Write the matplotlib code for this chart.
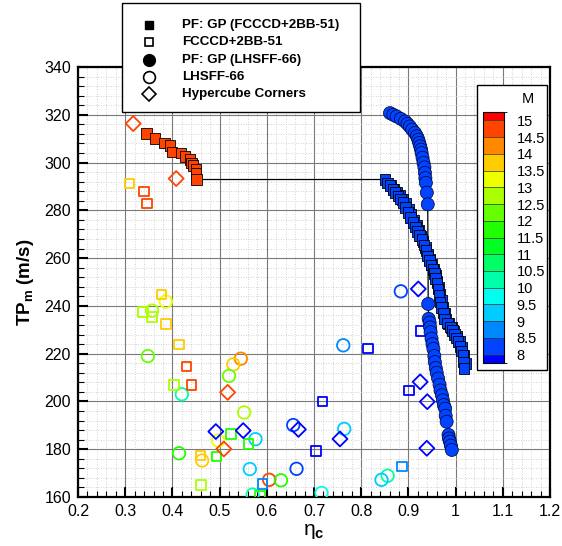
import matplotlib
matplotlib.use('Agg')
import matplotlib.pyplot as plt
import numpy as np
from matplotlib.colors import ListedColormap, BoundaryNorm, LinearSegmentedColormap
from matplotlib.lines import Line2D
from matplotlib.patches import Rectangle
from matplotlib.ticker import MultipleLocator
import matplotlib.cm as cm

plt.rcParams['font.family'] = ['Liberation Sans', 'DejaVu Sans']
plt.rcParams['mathtext.fontset'] = 'custom'
plt.rcParams['mathtext.rm'] = 'Liberation Sans'
plt.rcParams['mathtext.bf'] = 'Liberation Sans:bold'
plt.rcParams['mathtext.it'] = 'Liberation Sans:italic'

# ---------------- data ----------------
levels = [8, 8.5, 9, 9.5, 10, 10.5, 11, 11.5, 12, 12.5, 13, 13.5, 14, 14.5, 15]

# Pareto front: GP (FCCCD+2BB-51)  (filled squares) - main strand (connected by line)
pf_fcccd_eta = [0.345, 0.363, 0.383, 0.395, 0.399, 0.418, 0.427, 0.437, 0.441, 0.444, 0.450, 0.450, 0.451,
                0.850, 0.856, 0.861, 0.867, 0.872, 0.878, 0.883, 0.889, 0.894, 0.899, 0.904, 0.910,
                0.915, 0.919, 0.924, 0.929, 0.933, 0.937, 0.941, 0.945, 0.948, 0.952, 0.955, 0.958,
                0.961, 0.963, 0.965, 0.967, 0.970, 0.974, 0.977, 0.983, 0.989, 0.994, 0.998, 1.002,
                1.005, 1.009, 1.012, 1.016, 1.017, 1.018]
pf_fcccd_tp = [312.1, 310.0, 308.2, 307.2, 304.4, 304.0, 302.6, 301.2, 299.9, 298.8, 297.1, 295.7, 292.9,
               292.9, 291.5, 290.3, 288.8, 287.5, 286.0, 284.7, 283.3, 281.2, 279.2, 277.0, 275.0,
               273.0, 271.2, 269.5, 267.9, 265.5, 263.2, 260.8, 259.0, 257.2, 255.4, 253.5, 251.5,
               249.6, 247.0, 244.3, 241.7, 239.3, 237.0, 234.6, 232.9, 231.2, 229.6, 228.0, 226.5,
               225.0, 223.0, 221.1, 219.2, 216.5, 213.8]
pf_fcccd_m = [14.7] * 13 + [8.25] * 42

# further front points of the same series lying just beside the main strand
pf_fcccd_b_eta = [0.862, 0.869, 0.875, 0.881, 0.888, 0.894, 0.900, 0.905, 0.911, 0.917, 0.922, 0.926,
                  0.931, 0.936, 0.941, 0.945, 0.949, 0.953, 0.957, 0.961, 0.964, 0.967, 0.970, 0.973,
                  0.976, 0.980, 0.985, 0.991, 0.997, 1.003, 1.008, 1.013, 1.018, 1.021]
pf_fcccd_b_tp = [290.6, 289.0, 287.7, 286.2, 284.6, 282.8, 280.6, 278.4, 276.0, 273.8, 271.5, 269.3,
                 267.0, 264.4, 261.6, 259.5, 257.4, 255.2, 253.0, 250.4, 247.8, 245.0, 242.2, 239.4,
                 236.8, 234.6, 232.7, 231.0, 229.3, 227.3, 225.3, 222.8, 219.5, 216.0]
pf_fcccd_b_m = [8.25] * 34

# FCCCD+2BB-51 samples (open squares)
fcccd_eta = [0.309, 0.340, 0.346, 0.377, 0.338, 0.357, 0.386, 0.414, 0.430, 0.403, 0.441, 0.524,
             0.561, 0.459, 0.494, 0.461, 0.591, 0.586, 0.927, 0.814, 0.901, 0.718, 0.704, 0.886]
fcccd_tp = [291.3, 288.0, 282.8, 244.7, 237.4, 235.3, 232.5, 223.9, 214.7, 206.9, 206.8, 186.3,
            182.1, 177.4, 177.0, 165.1, 165.4, 160.4, 229.5, 222.1, 204.5, 199.9, 179.3, 172.8]
fcccd_m = [13.6, 14.7, 14.7, 13.6, 12.75, 12.75, 13.6, 13.6, 14.7, 12.75, 14.7, 11.5,
           11.5, 13.6, 11.5, 12.75, 8.75, 11.5, 7.9, 7.9, 7.9, 7.9, 7.9, 8.75]

# Pareto front: GP (LHSFF-66)  (filled circles)
pf_lhs_eta = [0.861, 0.868, 0.875, 0.884, 0.893, 0.898, 0.903, 0.908, 0.914, 0.918, 0.921, 0.923,
              0.925, 0.927, 0.928, 0.930, 0.932, 0.934, 0.935, 0.936, 0.937, 0.939, 0.941,
              0.942, 0.943, 0.945, 0.946, 0.947, 0.949, 0.951, 0.953, 0.955, 0.956, 0.958, 0.960,
              0.963, 0.966, 0.968, 0.971, 0.973, 0.975, 0.978, 0.979, 0.981, 0.985, 0.986, 0.988,
              0.990, 0.992]
pf_lhs_tp = [320.7, 320.0, 319.3, 318.3, 317.2, 316.2, 315.1, 313.8, 312.4, 311.0, 309.6, 308.2,
             306.8, 305.4, 304.0, 302.0, 299.9, 298.0, 295.7, 293.5, 291.5, 287.4, 282.5,
             240.8, 234.6, 233.0, 231.0, 229.0, 226.3, 224.0, 222.0, 219.0, 216.5, 214.0, 212.0,
             209.6, 207.0, 204.6, 202.6, 200.5, 198.5, 197.0, 194.0, 191.5, 186.0, 184.5, 183.2,
             181.5, 179.7]
pf_lhs_m = [8.25] * 49

# LHSFF-66 samples (open circles)
lhs_eta = [0.386, 0.357, 0.348, 0.545, 0.529, 0.520, 0.420, 0.552, 0.497, 0.576, 0.414, 0.463,
           0.564, 0.656, 0.663, 0.605, 0.630, 0.570, 0.884, 0.762, 0.764, 0.856, 0.843, 0.716]
lhs_tp = [241.8, 238.0, 219.0, 217.9, 215.5, 210.7, 203.0, 195.4, 183.6, 184.2, 178.3, 175.3,
          171.7, 190.1, 171.8, 167.2, 167.0, 161.0, 246.1, 223.5, 188.5, 168.9, 167.2, 161.7]
lhs_m = [13.25, 12.75, 12.25, 14.25, 13.6, 12.25, 10.25, 12.75, 13.25, 9.25, 11.5, 13.6,
         9.25, 8.25, 8.25, 14.7, 11.5, 10.25, 8.25, 8.75, 9.25, 10.25, 9.25, 9.75]

# Hypercube corners (open diamonds)
corner_eta = [0.317, 0.408, 0.517, 0.509, 0.492, 0.550, 0.667, 0.755, 0.921, 0.925, 0.940, 0.939]
corner_tp = [316.3, 293.3, 203.8, 180.1, 187.4, 187.8, 188.3, 184.3, 247.1, 208.2, 199.9, 180.4]
corner_m = [14.7, 14.7, 14.7, 14.7, 7.9, 7.9, 7.9, 7.9, 7.9, 7.9, 7.9, 7.9]

xticks = [0.2, 0.3, 0.4, 0.5, 0.6, 0.7, 0.8, 0.9, 1.0, 1.1, 1.2]
xticklabels = ['0.2', '0.3', '0.4', '0.5', '0.6', '0.7', '0.8', '0.9', '1', '1.1', '1.2']
yticks = [160, 180, 200, 220, 240, 260, 280, 300, 320, 340]

# ---------------- colours ----------------
rainbow = LinearSegmentedColormap.from_list(
    'small_rainbow', [(0, 0, 1), (0, 1, 1), (0, 1, 0), (1, 1, 0), (1, 0, 0)])
nb = len(levels) + 1
band_cmap = ListedColormap([rainbow(i / (nb - 1)) for i in range(nb)])
mark_norm = BoundaryNorm([levels[0] - 0.5] + levels + [levels[-1] + 0.5], nb)


def col(vals):
    return band_cmap(mark_norm(np.asarray(vals)))


# ---------------- figure ----------------
W, H = 562, 546
fig = plt.figure(figsize=(W / 100, H / 100), dpi=100)


def fx(x):
    return x / W


def fy(y):
    return 1 - y / H


ax = fig.add_axes([fx(78), fy(497), fx(550) - fx(78), fy(67) - fy(497)])
ax.set_xlim(0.2, 1.2)
ax.set_ylim(160, 340)
ax.set_xticks(xticks)
ax.set_xticklabels(xticklabels)
ax.set_yticks(yticks)
ax.xaxis.set_minor_locator(MultipleLocator(0.02))
ax.yaxis.set_minor_locator(MultipleLocator(4))
ax.grid(which='minor', ls=(0, (1, 2)), color='#c4c4c4', lw=0.6)
ax.grid(which='major', ls='-', color='#7a7a7a', lw=0.8)
ax.set_axisbelow(True)
ax.tick_params(which='both', direction='in', top=False, right=False, labelsize=11.5, pad=5)
ax.tick_params(which='major', length=7, width=1.5)
ax.tick_params(which='minor', length=4, width=0.8)
for s in ax.spines.values():
    s.set_linewidth(1.6)

ax.set_xlabel(r'η$_\mathbf{c}$', fontsize=15, labelpad=2)
ax.set_ylabel(r'$\mathbf{TP_m}$ (m/s)', fontsize=13.5, fontweight='bold', labelpad=6)

# open samples
ax.scatter(lhs_eta, lhs_tp, s=9.0 ** 2, marker='o', facecolors='none', edgecolors=col(lhs_m), linewidths=1.3, zorder=3)
ax.scatter(fcccd_eta, fcccd_tp, s=6.8 ** 2, marker='s', facecolors='none', edgecolors=col(fcccd_m), linewidths=1.3, zorder=3)
ax.scatter(corner_eta, corner_tp, s=7.6 ** 2, marker='D', facecolors='none', edgecolors=col(corner_m), linewidths=1.3, zorder=3)

# Pareto fronts
ax.plot(pf_lhs_eta, pf_lhs_tp, '-', color='black', lw=0.9, zorder=4)
ax.scatter(pf_lhs_eta, pf_lhs_tp, s=9.4 ** 2, marker='o', c=col(pf_lhs_m), edgecolors='#000030', linewidths=0.5, zorder=5)
ax.plot(pf_fcccd_eta, pf_fcccd_tp, '-', color='black', lw=0.9, zorder=4)
ax.scatter(pf_fcccd_b_eta, pf_fcccd_b_tp, s=7.6 ** 2, marker='s', c=col(pf_fcccd_b_m), edgecolors='#000000', linewidths=0.6, zorder=6)
ax.scatter(pf_fcccd_eta, pf_fcccd_tp, s=7.6 ** 2, marker='s', c=col(pf_fcccd_m), edgecolors='#000000', linewidths=0.6, zorder=6)

# ---------------- legend (manual, Tecplot style) ----------------
fig.patches.append(Rectangle((fx(122), fy(112)), fx(360) - fx(122), fy(3) - fy(112),
                             transform=fig.transFigure, facecolor='white', edgecolor='black', lw=1.0, zorder=10))
leg_rows = [25, 42, 60, 77, 94]
leg_labels = ['PF: GP (FCCCD+2BB-51)', 'FCCCD+2BB-51', 'PF: GP (LHSFF-66)', 'LHSFF-66', 'Hypercube Corners']
leg_styles = [dict(marker='s', ms=6.0, mfc='black', mec='black'),
              dict(marker='s', ms=6.3, mfc='none', mec='black', mew=1.2),
              dict(marker='o', ms=8.5, mfc='black', mec='black'),
              dict(marker='o', ms=8.5, mfc='none', mec='black', mew=1.2),
              dict(marker='D', ms=7.5, mfc='none', mec='black', mew=1.2)]
for yr, lab, st in zip(leg_rows, leg_labels, leg_styles):
    fig.lines.append(Line2D([fx(149)], [fy(yr)], transform=fig.transFigure, ls='none', zorder=11, **st))
    fig.text(fx(182), fy(yr), lab, fontsize=9.6, fontweight='bold', ha='left', va='center', zorder=11)

# ---------------- colour bar ----------------
fig.patches.append(Rectangle((fx(477), fy(370)), fx(547) - fx(477), fy(85) - fy(370),
                             transform=fig.transFigure, facecolor='white', edgecolor='black', lw=1.0, zorder=10))
cax = fig.add_axes([fx(483), fy(363), fx(504) - fx(483), fy(112) - fy(363)], zorder=12)
cb_norm = BoundaryNorm([levels[0] - 0.25] + levels + [levels[-1] + 0.25], nb)
sm = cm.ScalarMappable(norm=cb_norm, cmap=band_cmap)
cb = fig.colorbar(sm, cax=cax, ticks=levels, spacing='proportional', drawedges=True)
cb.ax.set_yticklabels([f'{v:g}' for v in levels])
cb.ax.tick_params(length=0, labelsize=10.5, pad=9)
cb.outline.set_linewidth(0.8)
cb.dividers.set_linewidth(0.5)
cb.dividers.set_color('#303030')
fig.text(fx(528), fy(99), 'M', fontsize=10.5, ha='center', va='center', zorder=13)

fig.savefig('out.png', dpi=100)
